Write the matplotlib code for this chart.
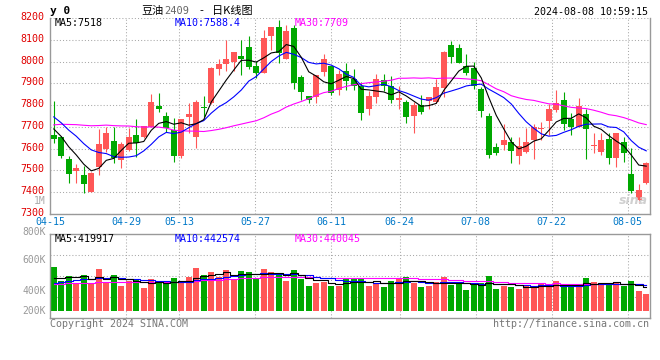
import numpy as np
import matplotlib
matplotlib.use("Agg")
import matplotlib.pyplot as plt
from matplotlib.transforms import ScaledTranslation

# ---------------- data ----------------
tick_labels = ["04-15", "04-29", "05-13", "05-27", "06-11", "06-24", "07-08", "07-22", "08-05"]
tick_index = [0, 10, 17, 27, 37, 46, 56, 66, 76]

opens = [7663, 7655, 7551, 7499, 7479, 7401, 7517, 7597, 7635, 7548,
         7594, 7663, 7652, 7701, 7796, 7750, 7686, 7566, 7747, 7655,
         7792, 7811, 7967, 7990, 7998, 8025, 8068, 7979, 7949, 8118,
         8157, 8011, 8154, 7930, 7842, 7836, 7950, 7979, 7869, 7956,
         7920, 7889, 7781, 7838, 7915, 7888, 7823, 7814, 7751, 7800,
         7819, 7815, 7877, 8076, 8063, 7979, 7969, 7874, 7750, 7609,
         7617, 7632, 7566, 7586, 7640, 7690, 7728, 7777, 7823, 7735,
         7701, 7759, 7610, 7586, 7644, 7556, 7629, 7484, 7365, 7441]
highs = [7820, 7658, 7566, 7530, 7522, 7495, 7689, 7698, 7701, 7632,
         7696, 7736, 7704, 7851, 7857, 7768, 7739, 7738, 7808, 7823,
         7842, 7977, 8010, 8099, 8044, 8099, 8118, 8004, 8145, 8157,
         8190, 8167, 8169, 7938, 7842, 7938, 8034, 7979, 7961, 7992,
         7964, 7907, 7866, 7943, 7943, 7933, 7888, 7823, 7815, 7845,
         7838, 7918, 8050, 8095, 8080, 8034, 7999, 7884, 7762, 7627,
         7713, 7655, 7655, 7693, 7713, 7724, 7805, 7869, 7861, 7762,
         7831, 7781, 7673, 7670, 7670, 7670, 7652, 7602, 7436, 7540]
lows = [7627, 7558, 7441, 7441, 7395, 7401, 7479, 7583, 7533, 7513,
        7589, 7563, 7647, 7701, 7770, 7678, 7540, 7558, 7670, 7602,
        7747, 7805, 7937, 7958, 7958, 7938, 7964, 7923, 7946, 8053,
        7992, 8011, 7874, 7823, 7811, 7811, 7933, 7846, 7846, 7869,
        7869, 7731, 7754, 7811, 7866, 7808, 7781, 7719, 7673, 7758,
        7781, 7808, 7838, 7992, 7992, 7938, 7872, 7747, 7558, 7571,
        7594, 7533, 7530, 7579, 7552, 7642, 7663, 7770, 7686, 7663,
        7701, 7551, 7579, 7571, 7530, 7517, 7537, 7395, 7350, 7438]
closes = [7643, 7566, 7484, 7513, 7438, 7490, 7621, 7670, 7558, 7621,
          7655, 7627, 7704, 7814, 7781, 7696, 7566, 7738, 7759, 7814,
          7788, 7972, 7990, 8011, 8044, 8010, 7976, 7946, 8109, 8157,
          8038, 8140, 7903, 7861, 7823, 7938, 8010, 7857, 7943, 7910,
          7889, 7765, 7842, 7918, 7888, 7823, 7834, 7747, 7800, 7770,
          7838, 7884, 8045, 8019, 7994, 7949, 7889, 7774, 7571, 7581,
          7640, 7591, 7612, 7632, 7698, 7694, 7781, 7808, 7713, 7701,
          7796, 7689, 7617, 7640, 7558, 7670, 7579, 7407, 7410, 7533]
# daily volume, thousand lots
volumes = [770, 525, 612, 478, 624, 490, 729, 490, 624, 437,
           525, 536, 396, 554, 490, 466, 571, 478, 595, 746,
           630, 676, 583, 717, 536, 700, 682, 548, 729, 676,
           641, 525, 711, 548, 437, 478, 507, 437, 437, 554,
           554, 554, 437, 466, 420, 525, 548, 595, 490, 420,
           437, 496, 595, 449, 478, 361, 449, 490, 612, 385,
           437, 420, 385, 437, 420, 490, 408, 525, 420, 437,
           420, 580, 505, 450, 450, 505, 425, 520, 350, 290]
# sessions before 04-15 (not drawn, they only feed the moving averages)
pre_closes = [7480, 7510, 7540, 7520, 7560, 7590, 7610, 7630, 7660, 7670,
              7720, 7760, 7790, 7810, 7830, 7850, 7820, 7800, 7830, 7834,
              7840, 7820, 7790, 7780, 7777, 7740, 7720, 7700, 7650]
pre_volumes = [420, 510, 460, 390, 480, 530, 450, 410, 500, 470,
               440, 520, 480, 430, 460, 500, 440, 470, 420, 480,
               400, 430, 380, 450, 415, 480, 540, 500, 535]

price_ticks = [7300, 7400, 7500, 7600, 7700, 7800, 7900, 8000, 8100, 8200]
vol_tick_labels = ["800K", "600K", "400K", "200K"]

header_title = ["豆油", "2409", "-", "日K线图"]
timestamp = "2024-08-08 10:59:15"
price_ma_text = ["MA5:7518", "MA10:7588.4", "MA30:7709"]
vol_ma_text = ["MA5:419917", "MA10:442574", "MA30:440045"]

# ---------------- style ----------------
RED = "#FF5757"
GREEN = "#00A800"
GRID = "#A8A8A8"
BORDER = "#999999"
MONO = "DejaVu Sans Mono"
W, H = 660, 360

fig = plt.figure(figsize=(W / 100, H / 100), dpi=100)
fig.patch.set_facecolor("white")


def px(x, y):
    return x / W, 1 - y / H


def ftext(x, y, s, **kw):
    fx, fy = px(x, y)
    fig.text(fx, fy, s, **kw)


o = np.array(opens, float)
h = np.array(highs, float)
l = np.array(lows, float)
c = np.array(closes, float)
v = np.array(volumes, float)
n = len(c)
x = np.arange(n)
up = c >= o
cols = np.where(up, RED, GREEN)


def moving(pre, cur, k):
    a = np.r_[np.array(pre, float), cur]
    off = len(pre)
    return np.array([a[off + i - k + 1: off + i + 1].mean() for i in range(len(cur))])


# grid positions of the date lines (Sina spaces them 7.6 px per session vs 7.5 px candles)
grid_x = np.array(tick_index) * 76 / 75 - 0.5

# ---------------- price panel ----------------
ax = fig.add_axes([50 / W, 1 - 214 / H, 600 / W, 196 / H])
ax.set_xlim(-0.5, n - 0.5)
ax.set_ylim(7300, 8200)
dot = (0, (1, 2))
for p in price_ticks:
    ax.axhline(p, color=GRID, lw=0.75, ls=dot, zorder=0)
for gx in grid_x[1:]:
    ax.axvline(gx, color=GRID, lw=0.75, ls=dot, zorder=0)

ax.vlines(x, l, h, colors=cols, lw=0.8, zorder=2)
body_bottom = np.minimum(o, c)
body_h = np.maximum(np.abs(c - o), 4)
ax.bar(x, body_h, bottom=body_bottom, width=0.8, color=cols, linewidth=0, zorder=3)

ax.plot(x, moving(pre_closes, c, 30), color="#FF00FF", lw=0.8, zorder=4)
ax.plot(x, moving(pre_closes, c, 10), color="#0000FF", lw=0.8, zorder=5)
ax.plot(x, moving(pre_closes, c, 5), color="black", lw=0.8, zorder=6)

ax.set_yticks(price_ticks)
ax.set_yticklabels([str(p) for p in price_ticks], color="#E00000", fontsize=7.2, family=MONO)
ax.tick_params(axis="y", length=0, pad=4)
for lab in ax.get_yticklabels():
    lab.set_transform(lab.get_transform() + ScaledTranslation(0, 2 / 100, fig.dpi_scale_trans))
ax.set_xticks(grid_x)
ax.set_xticklabels(tick_labels, color="#0078C8", fontsize=7.2, family=MONO)
ax.tick_params(axis="x", length=0, pad=2)
for s in ["left", "right", "bottom"]:
    ax.spines[s].set_color(BORDER)
    ax.spines[s].set_linewidth(1.0)
ax.spines["top"].set_visible(False)

# ---------------- volume panel ----------------
av = fig.add_axes([50 / W, 1 - 318.3 / H, 600 / W, 84 / H])
av.set_xlim(-0.5, n - 0.5)
vlo, vhi = -133, 1336
av.set_ylim(vlo, vhi)
for f in (0.25, 0.5, 0.75):
    av.axhline(vlo + f * (vhi - vlo), color=GRID, lw=0.75, ls=dot, zorder=0)
for gx in grid_x[1:]:
    av.axvline(gx, color=GRID, lw=0.75, ls=dot, zorder=0)
av.bar(x, v, width=0.8, color=cols, linewidth=0, zorder=2)
av.plot(x, moving(pre_volumes, v, 30), color="#FF00FF", lw=0.8, drawstyle="steps-mid", zorder=4)
av.plot(x, moving(pre_volumes, v, 10), color="#0000FF", lw=0.8, drawstyle="steps-mid", zorder=5)
av.plot(x, moving(pre_volumes, v, 5), color="black", lw=0.8, drawstyle="steps-mid", zorder=6)
av.set_xticks([])
av.set_yticks([])
for s in av.spines.values():
    s.set_color(BORDER)
    s.set_linewidth(1.0)

# volume scale labels (placed where Sina draws them)
for lab, yy in zip(vol_tick_labels, [231.8, 260, 291, 311]):
    ftext(46, yy, lab, color="#999999", fontsize=7.0, family=MONO, ha="right", va="center")
ftext(46, 201, "1M", color="#AAAAAA", fontsize=7.0, family=MONO, ha="right", va="center")

# ---------------- header texts ----------------
ftext(50, 11.5, "y 0", fontsize=8, family=MONO, weight="bold", ha="left", va="center")
cjk = ["Noto Sans CJK SC", "DejaVu Sans"]
ftext(141.5, 11, header_title[0], fontsize=8, family=cjk, ha="left", va="center")
ftext(164, 11.5, header_title[1], fontsize=7.5, family=MONO, color="#666666", ha="left", va="center")
ftext(199, 11, header_title[2], fontsize=8, family=cjk, ha="left", va="center")
ftext(212, 11, header_title[3], fontsize=8, family=cjk, ha="left", va="center")
ftext(648, 12, timestamp, fontsize=7.2, family=MONO, ha="right", va="center")

for s, xx, col in zip(price_ma_text, [55, 175, 295], ["black", "#0000FF", "#FF00FF"]):
    ftext(xx, 23.5, s, fontsize=7.2, family=MONO, color=col, ha="left", va="center")
for s, xx, col in zip(vol_ma_text, [55, 175, 295], ["black", "#0000FF", "#FF00FF"]):
    ftext(xx, 238.5, s, fontsize=7.2, family=MONO, color=col, ha="left", va="center")

ftext(633, 201, "sina", fontsize=9, color="#D0D0D0", style="italic", weight="bold",
      ha="center", va="center")
ftext(50, 324, "Copyright 2024 SINA.COM", fontsize=7.2, family=MONO, color="#777777",
      ha="left", va="center")
ftext(649, 324, "http://finance.sina.com.cn", fontsize=7.2, family=MONO, color="#777777",
      ha="right", va="center")

fig.savefig("out.png", dpi=100, facecolor="white")
